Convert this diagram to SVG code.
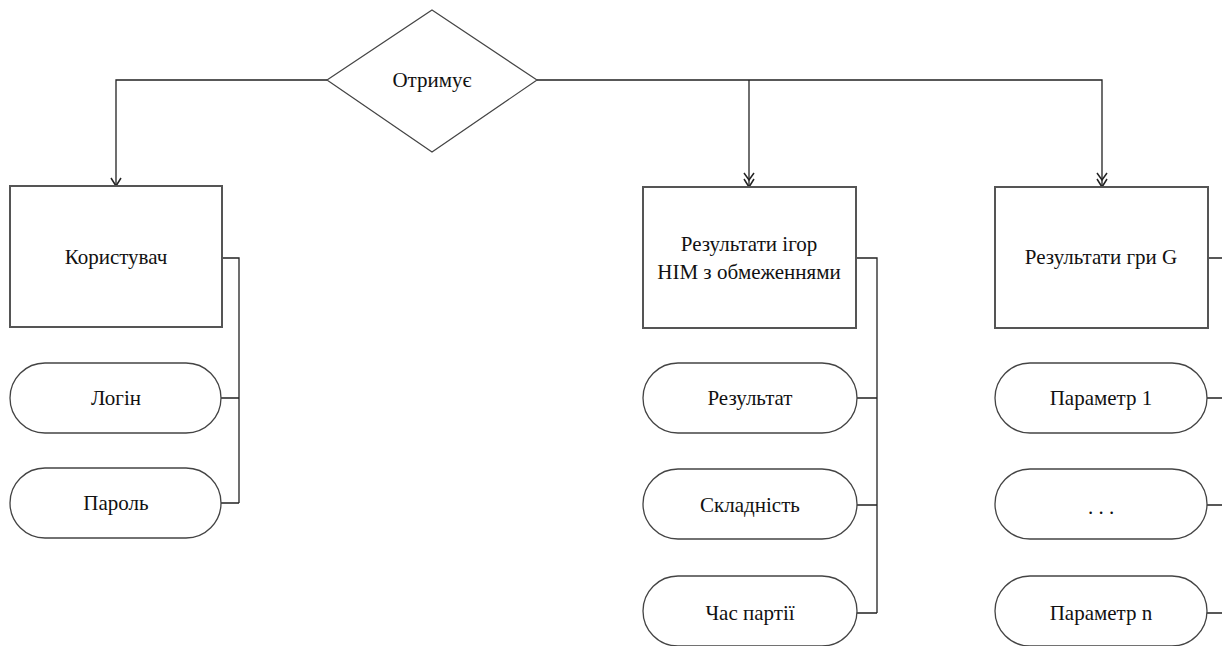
<svg xmlns="http://www.w3.org/2000/svg" width="1222" height="646" viewBox="0 0 1222 646">
<rect width="1222" height="646" fill="#fff"/>
<g id="connectors" fill="none" stroke="#222" stroke-width="1.3">
<path d="M327 80 H116 V186"/>
<path d="M537 80 H1102 V187"/>
<path d="M749 80 V187"/>
<path stroke-width="1.5" d="M111 178 L116 186 L121 178"/>
<path stroke-width="1.5" d="M744 173 L749 180 L754 173 M744 179 L749 187 L754 179"/>
<path stroke-width="1.5" d="M1097 173 L1102 180 L1107 173 M1097 179 L1102 187 L1107 179"/>
<path d="M222 258 H239 V503 M221 398 H239 M221 503 H239"/>
<path d="M856 258 H877 V613 M857 398 H877 M857 505 H877 M857 613 H877"/>
<path d="M1208 258 H1222 M1207 398 H1222 M1207 505 H1222 M1207 613 H1222"/>
</g>
<g id="n-otrymuie">
<polygon fill="#fff" stroke="#444" stroke-width="1.2" points="432,10 537,80 432,152 327,80"/>
<text x="432" y="87" style="font-family:'Times New Roman','Liberation Serif',serif;font-size:21px" text-anchor="middle" fill="#111">Отримує</text>
</g>
<g id="n-korystuvach">
<rect fill="#fff" stroke="#555" stroke-width="2" x="10" y="186" width="212" height="141"/>
<text x="116" y="264" style="font-family:'Times New Roman','Liberation Serif',serif;font-size:21px" text-anchor="middle" fill="#111">Користувач</text>
</g>
<g id="n-login">
<rect fill="#fff" stroke="#444" stroke-width="1.3" x="10" y="363" width="211" height="70" rx="35"/>
<text x="116" y="405" style="font-family:'Times New Roman','Liberation Serif',serif;font-size:21px" text-anchor="middle" fill="#111">Логін</text>
</g>
<g id="n-parol">
<rect fill="#fff" stroke="#444" stroke-width="1.3" x="10" y="468" width="211" height="70" rx="35"/>
<text x="116" y="510" style="font-family:'Times New Roman','Liberation Serif',serif;font-size:21px" text-anchor="middle" fill="#111">Пароль</text>
</g>
<g id="n-nim">
<rect fill="#fff" stroke="#555" stroke-width="2" x="643" y="187" width="213" height="141"/>
<text x="749" y="251" style="font-family:'Times New Roman','Liberation Serif',serif;font-size:21px" text-anchor="middle" fill="#111">Результати ігор</text>
<text x="749" y="279" style="font-family:'Times New Roman','Liberation Serif',serif;font-size:21px" text-anchor="middle" fill="#111">НІМ з обмеженнями</text>
</g>
<g id="n-rezultat">
<rect fill="#fff" stroke="#444" stroke-width="1.3" x="643" y="363" width="214" height="70" rx="35"/>
<text x="750" y="405" style="font-family:'Times New Roman','Liberation Serif',serif;font-size:21px" text-anchor="middle" fill="#111">Результат</text>
</g>
<g id="n-skladnist">
<rect fill="#fff" stroke="#444" stroke-width="1.3" x="643" y="469" width="214" height="70" rx="35"/>
<text x="750" y="512" style="font-family:'Times New Roman','Liberation Serif',serif;font-size:21px" text-anchor="middle" fill="#111">Складність</text>
</g>
<g id="n-chas">
<rect fill="#fff" stroke="#444" stroke-width="1.3" x="643" y="576" width="214" height="70" rx="35"/>
<text x="750" y="620" style="font-family:'Times New Roman','Liberation Serif',serif;font-size:21px" text-anchor="middle" fill="#111">Час партії</text>
</g>
<g id="n-g">
<rect fill="#fff" stroke="#555" stroke-width="2" x="995" y="187" width="213" height="141"/>
<text x="1101" y="264" style="font-family:'Times New Roman','Liberation Serif',serif;font-size:21px" text-anchor="middle" fill="#111">Результати гри G</text>
</g>
<g id="n-param1">
<rect fill="#fff" stroke="#444" stroke-width="1.3" x="995" y="363" width="212" height="70" rx="35"/>
<text x="1101" y="405" style="font-family:'Times New Roman','Liberation Serif',serif;font-size:21px" text-anchor="middle" fill="#111">Параметр 1</text>
</g>
<g id="n-dots">
<rect fill="#fff" stroke="#444" stroke-width="1.3" x="995" y="469" width="212" height="70" rx="35"/>
<text x="1101" y="514" style="font-family:'Times New Roman','Liberation Serif',serif;font-size:21px" text-anchor="middle" fill="#111">. . .</text>
</g>
<g id="n-paramn">
<rect fill="#fff" stroke="#444" stroke-width="1.3" x="995" y="576" width="212" height="70" rx="35"/>
<text x="1101" y="620" style="font-family:'Times New Roman','Liberation Serif',serif;font-size:21px" text-anchor="middle" fill="#111">Параметр n</text>
</g>
</svg>
